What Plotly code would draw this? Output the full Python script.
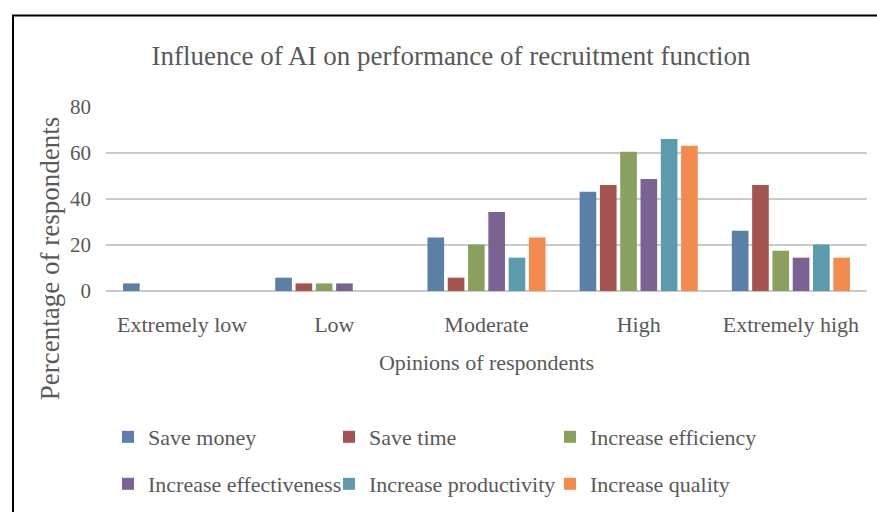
import plotly.graph_objects as go

categories = ["Extremely low", "Low", "Moderate", "High", "Extremely high"]
series_names = ["Save money", "Save time", "Increase efficiency",
                "Increase effectiveness", "Increase productivity", "Increase quality"]
save_money = [3.3, 5.8, 23.3, 43.1, 26.2]
save_time = [0, 3.3, 5.8, 46.1, 46.1]
increase_efficiency = [0, 3.3, 20.2, 60.5, 17.5]
increase_effectiveness = [0, 3.3, 34.4, 48.7, 14.5]
increase_productivity = [0, 0, 14.5, 66.1, 20.2]
increase_quality = [0, 0, 23.3, 63.1, 14.5]
y_ticks = [0, 20, 40, 60, 80]

series_values = [save_money, save_time, increase_efficiency,
                 increase_effectiveness, increase_productivity, increase_quality]
colors = ["#5b7fa6", "#a5534f", "#8aa05e", "#7a6293", "#5b9bad", "#f28b4d"]

FONT = "Liberation Serif"
TXT = "#595959"

fig = go.Figure()
for i, (name, vals) in enumerate(zip(series_names, series_values)):
    fig.add_trace(go.Bar(
        x=categories, y=vals, name=name,
        marker=dict(color=colors[i], line=dict(width=0)),
        legend="legend" if i < 3 else "legend2",
    ))

W, H = 877, 512
L, R, T, B = 106, 10, 107, 220
pw, ph = W - L - R, H - T - B

def px_x(p):
    return (p - L) / pw

def px_y(p):
    return 1 - (p - T) / ph

legend_common = dict(orientation="h", xanchor="left", yanchor="middle",
                     entrywidthmode="pixels", entrywidth=176, font=dict(size=22),
                     itemwidth=30, traceorder="normal", bgcolor="rgba(0,0,0,0)")

fig.update_layout(
    width=W, height=H,
    margin=dict(l=L, r=R, t=T, b=B),
    paper_bgcolor="white", plot_bgcolor="white",
    font=dict(family=FONT, color=TXT, size=22),
    barmode="group", bargap=0.2, bargroupgap=0.18,
    title=dict(text="Influence of AI on performance of recruitment function",
               x=451 / W, xanchor="center", xref="container", y=1 - 56 / H, yanchor="middle",
               font=dict(size=27, family=FONT, color=TXT)),
    xaxis=dict(showgrid=False, showline=False, ticks="", tickfont=dict(size=22),
               ticklabelstandoff=18,
               title=dict(text="Opinions of respondents", font=dict(size=22), standoff=18)),
    yaxis=dict(range=[0, 80], tickvals=y_ticks, showgrid=True, gridcolor="#cacaca",
               gridwidth=2, zeroline=True, zerolinecolor="#cacaca", zerolinewidth=2,
               showline=False, ticks="", tickfont=dict(size=21), ticklabelstandoff=14),
    legend=dict(x=px_x(108), y=px_y(437), **legend_common),
    legend2=dict(x=px_x(108), y=px_y(484), **legend_common),
    showlegend=True,
)

fig.add_annotation(text="Percentage of respondents", xref="paper", yref="paper",
                   x=px_x(50), y=px_y(260), textangle=-90, showarrow=False,
                   font=dict(size=27, family=FONT, color=TXT),
                   xanchor="center", yanchor="middle")

fig.add_shape(type="rect", xref="paper", yref="paper",
              x0=px_x(13), x1=px_x(890), y0=px_y(15), y1=px_y(530),
              line=dict(color="black", width=2), fillcolor="rgba(0,0,0,0)", layer="above")

fig.write_html("out.html", post_script="document.body.style.margin='0';",
               config={"displayModeBar": False})
